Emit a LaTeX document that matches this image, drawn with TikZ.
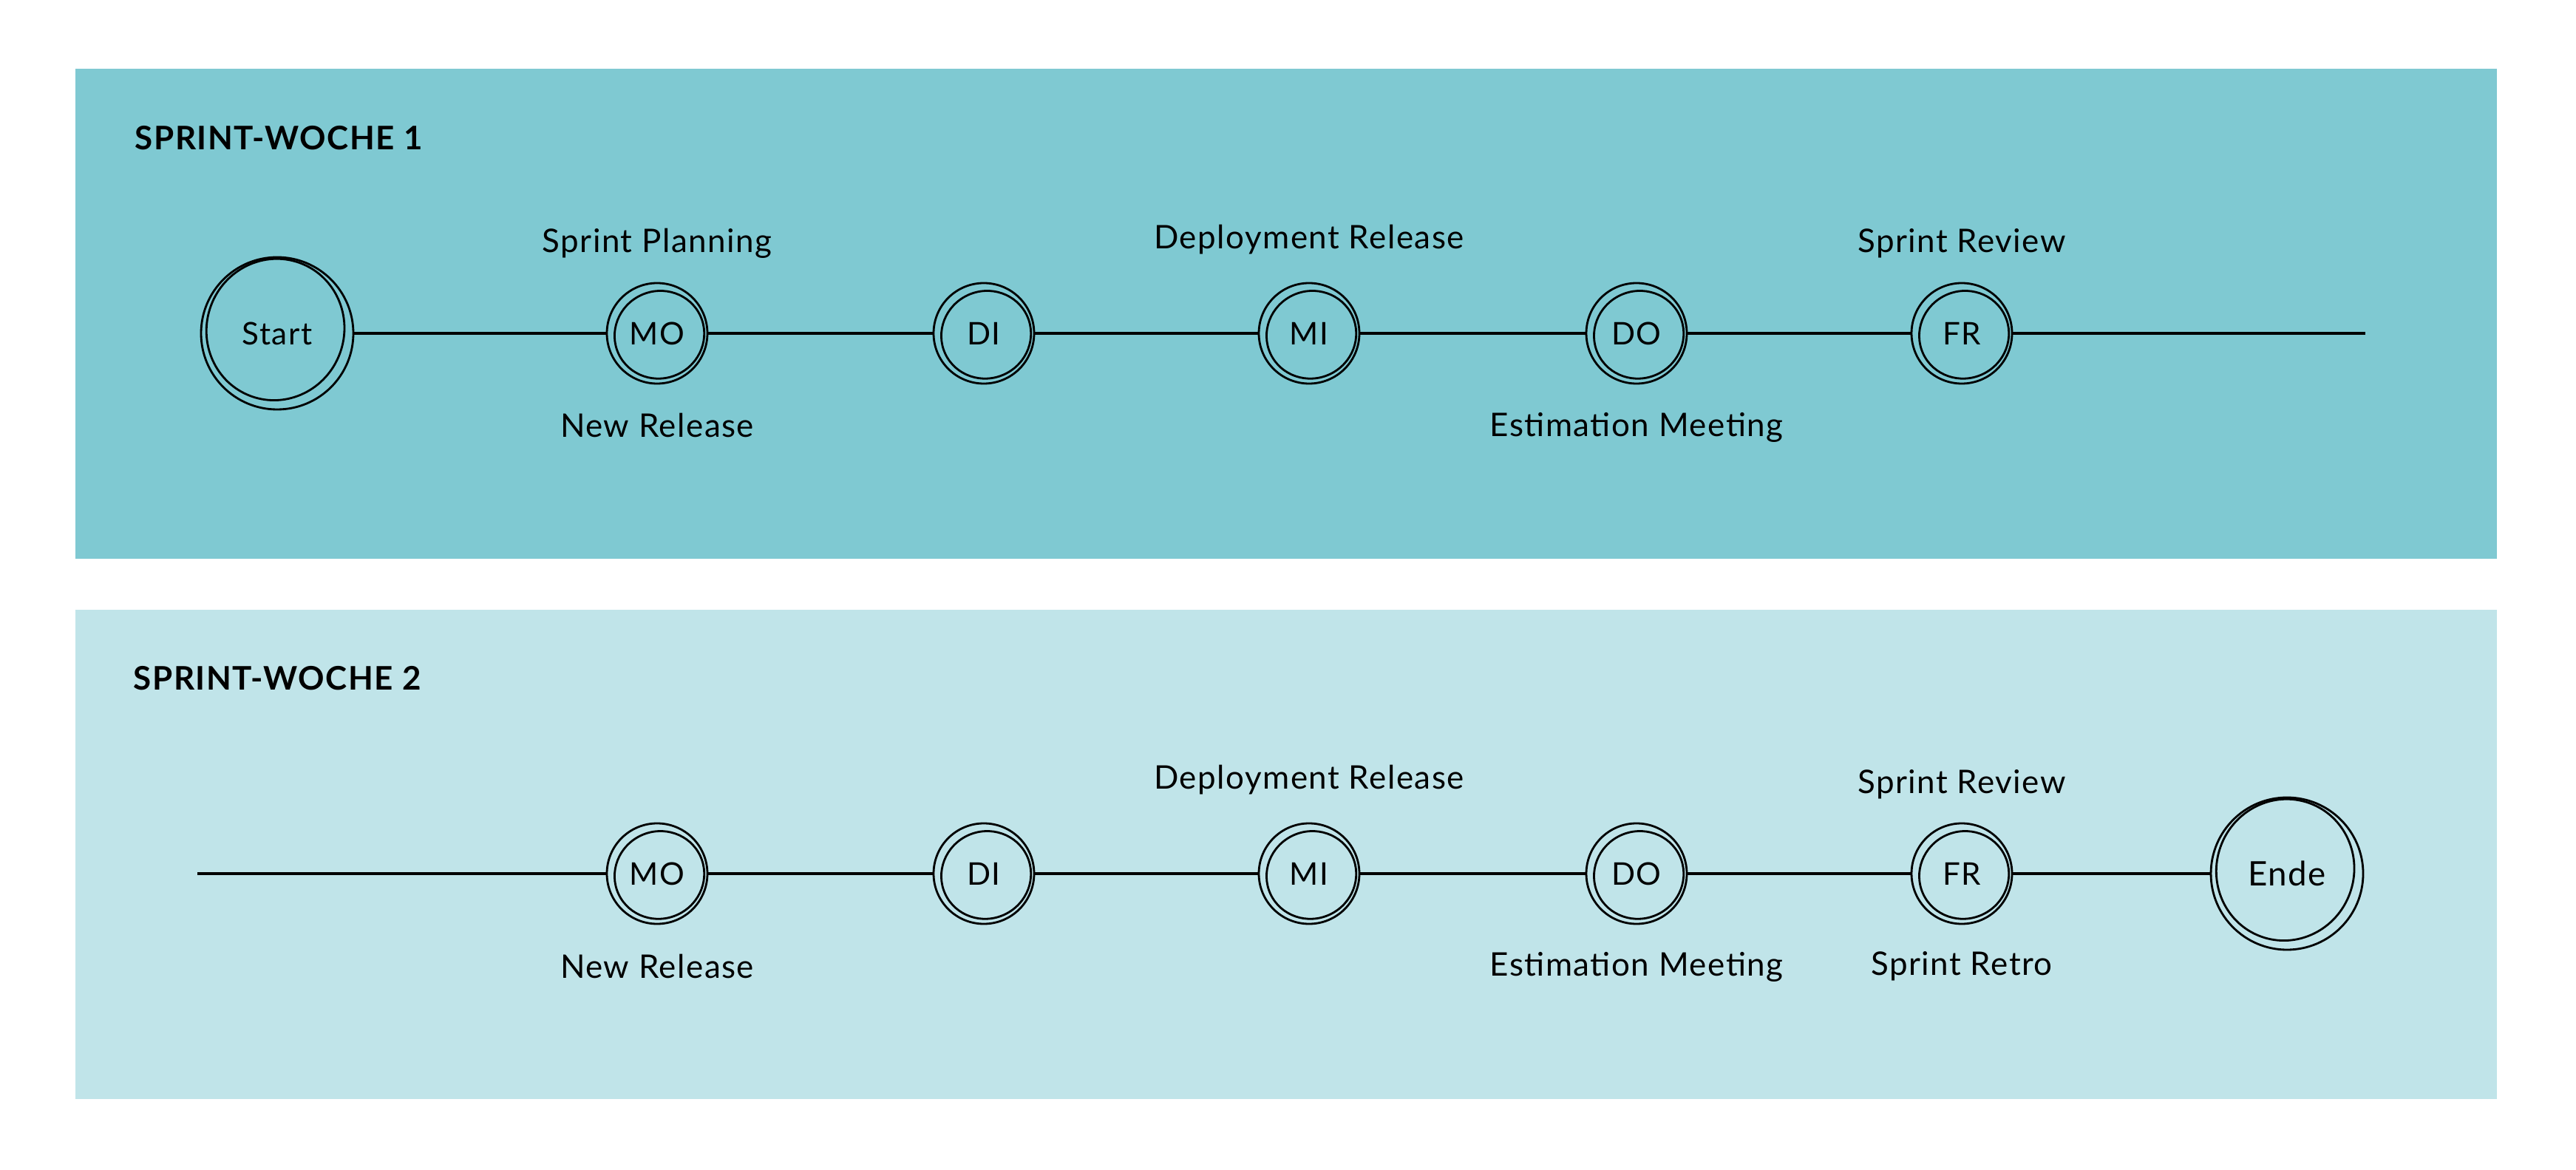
\documentclass[tikz,border=0pt]{standalone}
\usepackage{fontspec}
\setmainfont{Lato}[LetterSpace=3.4]
\definecolor{weekone}{HTML}{7FC9D2}
\definecolor{weektwo}{HTML}{C0E4E9}
\tikzset{
  day/.style={circle, draw, line width=0.8pt, minimum size=1.36cm, inner sep=0pt, font=\fontsize{12}{14}\selectfont},
  bigday/.style={day, minimum size=2.06cm},
  ring/.style={line width=0.8pt},
  lbl/.style={font=\fontsize{12.5}{15}\selectfont},
  heading/.style={anchor=west, inner sep=0pt, font=\bfseries\fontsize{12.5}{15}\selectfont},
  conn/.style={line width=1pt}
}
\begin{document}
\begin{tikzpicture}
  \useasboundingbox (0,0) rectangle (34.85,-15.83);
  % Week bands
  \fill[weekone] (1.02,-0.93) rectangle (33.78,-7.56);
  \fill[weektwo] (1.02,-8.25) rectangle (33.78,-14.87);
  \node[heading] (head1) at (1.82,-1.87) {SPRINT-WOCHE 1};
  \node[heading] (head2) at (1.80,-9.18) {SPRINT-WOCHE 2};

  % Week 1
  \node[bigday] (start) at (3.75,-4.51) {Start};
  \node[day] (mo1) at (8.89,-4.51) {MO};
  \node[day] (di1) at (13.31,-4.51) {DI};
  \node[day] (mi1) at (17.71,-4.51) {MI};
  \node[day] (do1) at (22.14,-4.51) {DO};
  \node[day] (fr1) at (26.54,-4.51) {FR};
  \coordinate (end1) at (32.00,-4.51);
  \draw[conn] (start) -- (mo1) -- (di1) -- (mi1) -- (do1) -- (fr1) -- (end1);

  \node[lbl] (plan1) at (8.89,-3.29) {Sprint Planning};
  \node[lbl] (rel1) at (8.89,-5.76) {New Release};
  \node[lbl] (dep1) at (17.71,-3.24) {Deployment Release};
  \node[lbl] (est1) at (22.14,-5.78) {Estimation Meeting};
  \node[lbl] (rev1) at (26.54,-3.29) {Sprint Review};

  % Week 2
  \coordinate (begin2) at (2.67,-11.82);
  \node[day] (mo2) at (8.89,-11.82) {MO};
  \node[day] (di2) at (13.31,-11.82) {DI};
  \node[day] (mi2) at (17.71,-11.82) {MI};
  \node[day] (do2) at (22.14,-11.82) {DO};
  \node[day] (fr2) at (26.54,-11.82) {FR};
  \node[bigday] (ende) at (30.94,-11.82) {\fontsize{13}{15}\selectfont Ende};
  \draw[conn] (begin2) -- (mo2) -- (di2) -- (mi2) -- (do2) -- (fr2) -- (ende);

  \node[lbl] (rel2) at (8.89,-13.07) {New Release};
  \node[lbl] (dep2) at (17.71,-10.55) {Deployment Release};
  \node[lbl] (est2) at (22.14,-13.08) {Estimation Meeting};
  \node[lbl] (rev2) at (26.54,-10.61) {Sprint Review};
  \node[lbl] (retro2) at (26.54,-13.07) {Sprint Retro};

  % Sketchy inner rings
  \foreach \n in {mo1,di1,mi1,do1,fr1,mo2,di2,mi2,do2,fr2}
    \draw[ring, rotate around={25:(\n.center)}] ([shift={(0.02,-0.03)}]\n.center) ellipse [x radius=0.61, y radius=0.59];
  \foreach \n in {start,ende}
    \draw[ring, rotate around={-20:(\n.center)}] ([shift={(-0.04,0.04)}]\n.center) ellipse [x radius=0.93, y radius=0.96];
\end{tikzpicture}
\end{document}
